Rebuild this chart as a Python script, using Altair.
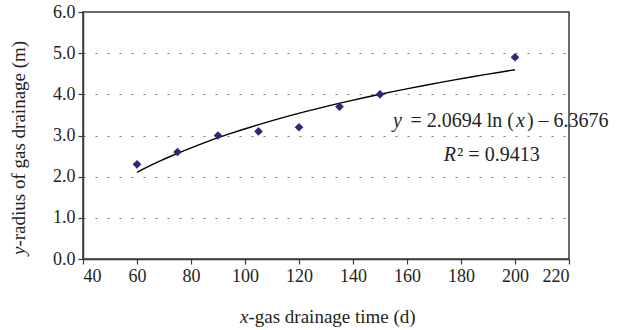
import altair as alt
import pandas as pd

# data
time_d = [60, 75, 90, 105, 120, 135, 150, 200]
radius_m = [2.3, 2.6, 3.0, 3.1, 3.2, 3.7, 4.0, 4.9]

x_ticks = [40, 60, 80, 100, 120, 140, 160, 180, 200, 220]
y_ticks = [0, 1, 2, 3, 4, 5, 6]

# trend-line annotation, in data units
eq_y_part = "y"
eq_mid_part = "= 2.0694 ln ("
eq_x_part = "x"
eq_end_part = ") \u2013 6.3676"
eq_left_x = 154.8      # left edge of the whole equation
eq_anchor_x = 200.0    # left edge of the italic "x"
eq_anchor_y = 3.206    # baseline

r2_r_part = "R"
r2_rest_part = "\u00b2 = 0.9413"
r2_anchor_x = 178.1
r2_anchor_y = 2.388

x_title_parts = ["x", "-gas drainage time (d)"]
y_title_parts = ["y", "-radius of gas drainage (m)"]

FONT = "Liberation Serif"
INK = "#231F20"
EQ_SIZE = 20
TITLE_SIZE = 19
LABEL_SIZE = 18

df = pd.DataFrame({"x": time_d, "y": radius_m})

xs = alt.Scale(domain=[40, 220], nice=False, zero=False)
ys = alt.Scale(domain=[0, 6], nice=False)

xaxis = alt.Axis(values=x_ticks, title=None, grid=False, tickSize=5, labelPadding=3)
yaxis = alt.Axis(values=y_ticks, format=".1f", title=None,
                 grid=True, gridDash=[2, 10], gridColor="#7a7a7a", gridWidth=1.2,
                 tickSize=5, labelPadding=3)

points = alt.Chart(df).mark_point(shape="diamond", filled=True, size=75,
                                  color="#2B2A7A", opacity=1).encode(
    x=alt.X("x:Q", scale=xs, axis=xaxis),
    y=alt.Y("y:Q", scale=ys, axis=yaxis),
)

trend = alt.Chart(df).transform_regression(
    "x", "y", method="log", extent=[60, 200]
).mark_line(color="black", strokeWidth=1.4).encode(
    x=alt.X("x:Q", scale=xs),
    y=alt.Y("y:Q", scale=ys),
)


def piece(txt, x, y, dx, align, italic, size):
    d = pd.DataFrame({"t": [txt], "x": [x], "y": [y]})
    return alt.Chart(d).mark_text(
        font=FONT, fontSize=size, color=INK,
        fontStyle="italic" if italic else "normal",
        align=align, baseline="alphabetic", dx=dx,
    ).encode(x=alt.X("x:Q", scale=xs), y=alt.Y("y:Q", scale=ys), text="t:N")


S = EQ_SIZE
eq_layers = [
    piece(eq_y_part, eq_left_x, eq_anchor_y, 0, "left", True, S),
    piece(eq_mid_part, eq_anchor_x, eq_anchor_y, -1, "right", False, S),
    piece(eq_x_part, eq_anchor_x, eq_anchor_y, 1, "left", True, S),
    piece(eq_end_part, eq_anchor_x, eq_anchor_y, 1 + 0.444 * S + 2, "left", False, S),
]
r2_layers = [
    piece(r2_r_part, r2_anchor_x, r2_anchor_y, 0, "right", True, S),
    piece(r2_rest_part, r2_anchor_x, r2_anchor_y, 1.5, "left", False, S),
]

# axis titles (mixed italic / roman)
one = pd.DataFrame({"t": [0]})
xt_x = 157.0 + 0.444 * TITLE_SIZE
xt_y = 311
x_title = [
    alt.Chart(one).mark_text(font=FONT, fontSize=TITLE_SIZE, color=INK, fontStyle="italic",
                             align="right", baseline="alphabetic", text=x_title_parts[0]).encode(
        x=alt.value(xt_x), y=alt.value(xt_y)),
    alt.Chart(one).mark_text(font=FONT, fontSize=TITLE_SIZE, color=INK,
                             align="left", baseline="alphabetic", text=x_title_parts[1]).encode(
        x=alt.value(xt_x), y=alt.value(xt_y)),
]
yt_x = -58
yt_y = 243.0 - 0.444 * TITLE_SIZE
y_title = [
    alt.Chart(one).mark_text(font=FONT, fontSize=TITLE_SIZE, color=INK, fontStyle="italic",
                             angle=270, align="right", baseline="alphabetic",
                             text=y_title_parts[0]).encode(
        x=alt.value(yt_x), y=alt.value(yt_y)),
    alt.Chart(one).mark_text(font=FONT, fontSize=TITLE_SIZE, color=INK,
                             angle=270, align="left", baseline="alphabetic",
                             text=y_title_parts[1]).encode(
        x=alt.value(yt_x), y=alt.value(yt_y)),
]

chart = alt.layer(trend, points, *eq_layers, *r2_layers, *x_title, *y_title).properties(
    width=486, height=247,
    autosize=alt.AutoSizeParams(type="none"),
    padding={"left": 83, "top": 12, "right": 65, "bottom": 71},
    background="white",
).configure_view(
    stroke="#3a3a3a", strokeWidth=1.5
).configure_axis(
    labelFont=FONT, labelFontSize=LABEL_SIZE, labelColor=INK,
    domainColor="#3a3a3a", tickColor="#3a3a3a", domainWidth=1.5, tickWidth=1.2,
)

chart.save("out.html", embed_options={"renderer": "svg", "actions": False})
